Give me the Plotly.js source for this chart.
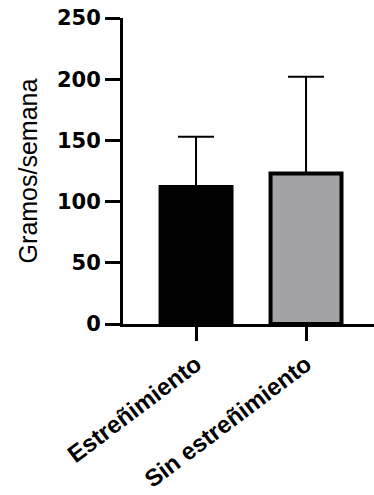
<!DOCTYPE html>
<html>
<head>
<meta charset="utf-8">
<script src="https://cdn.plot.ly/plotly-3.0.1.min.js"></script>
<style>
html,body{margin:0;padding:0;background:#fff;}
#chart{width:374px;height:495px;}
</style>
</head>
<body>
<div id="chart"></div>
<script>
var categories = ["Estreñimiento", "Sin estreñimiento"];
var means = [112, 123];
var sds = [41, 79];
var barColors = ["#000000", "#a3a3a7"];
var yTicks = [0, 50, 100, 150, 200, 250];

var xIdx = categories.map(function (c, i) { return i; });

var trace = {
  type: "bar",
  x: xIdx,
  y: means,
  width: 0.645,
  marker: { color: barColors, line: { color: "#000", width: 4 } },
  error_y: {
    type: "data",
    symmetric: false,
    array: sds,
    arrayminus: sds.map(function () { return 0; }),
    color: "#000",
    thickness: 2,
    width: 18
  },
  hoverinfo: "none"
};

var layout = {
  width: 374,
  height: 495,
  margin: { l: 123, r: 0, t: 18, b: 171 },
  paper_bgcolor: "#fff",
  plot_bgcolor: "#fff",
  showlegend: false,
  xaxis: {
    range: [-0.664, 1.618],
    tickvals: xIdx,
    ticktext: categories,
    tickangle: -37,
    ticks: "outside",
    ticklen: 14,
    tickwidth: 3,
    tickcolor: "#000",
    showline: true,
    linewidth: 3,
    linecolor: "#000",
    showgrid: false,
    zeroline: false,
    fixedrange: true,
    tickfont: { family: "Liberation Sans, Arial, sans-serif", size: 24, color: "#000", weight: "bold" }
  },
  yaxis: {
    range: [0, 250],
    tickvals: yTicks,
    ticktext: yTicks.map(String),
    ticks: "outside",
    ticklen: 15,
    tickwidth: 3,
    tickcolor: "#000",
    showline: true,
    linewidth: 3,
    linecolor: "#000",
    showgrid: false,
    zeroline: false,
    fixedrange: true,
    tickfont: { family: "DejaVu Sans, sans-serif", size: 21, color: "#000", weight: "bold" },
    title: {
      text: "Gramos/semana",
      font: { family: "Liberation Sans, Arial, sans-serif", size: 25, color: "#000" },
      standoff: 13
    }
  }
};

Plotly.newPlot("chart", [trace], layout, { displayModeBar: false, staticPlot: true });
</script>
</body>
</html>
